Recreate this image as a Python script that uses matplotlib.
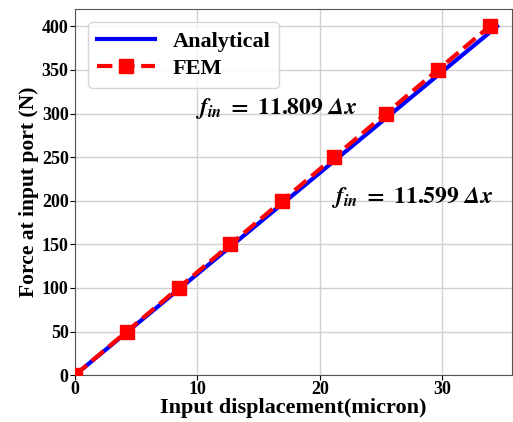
import numpy as np
import matplotlib.pyplot as plt

plt.rcParams['font.family'] = ['Liberation Serif', 'DejaVu Serif']
plt.rcParams['font.weight'] = 'bold'
plt.rcParams['mathtext.fontset'] = 'stix'

# data
force = [0, 50, 100, 150, 200, 250, 300, 350, 400]
k_fem = 11.809
k_analytical = 11.599
disp_fem = [f / k_fem for f in force]
disp_analytical = [f / k_analytical for f in force]

fig = plt.figure(figsize=(5.13, 4.22), dpi=100)
ax = fig.add_axes([0.146, 0.111, 0.852, 0.868])

ax.plot(disp_analytical, force, color='blue', lw=3, label='Analytical', zorder=3)
ax.plot(disp_fem, force, color='red', lw=3, ls='--', marker='s', ms=10,
        label='FEM', zorder=4)

ax.set_xlim(0, 35.7)
ax.set_ylim(0, 420)
ax.set_xticks([0, 10, 20, 30])
ax.set_yticks(range(0, 401, 50))
ax.grid(True, color='#d0d0d0', lw=1)
ax.set_axisbelow(True)
for s in ax.spines.values():
    s.set_color('#555555')

ax.tick_params(labelsize=13, pad=1)
for t in ax.get_xticklabels() + ax.get_yticklabels():
    t.set_fontweight('bold')
ax.set_xlabel('Input displacement(micron)', fontsize=16, fontweight='bold', labelpad=0)
ax.set_ylabel('Force at input port (N)', fontsize=15.5, fontweight='bold', labelpad=2)

ax.text(9.8, 306, r'$\mathbfit{f}_{\mathbfit{in}}\;=\;\mathbf{11.809}\ \mathbfit{\Delta x}$',
        fontsize=17, va='center')
ax.text(20.9, 204, r'$\mathbfit{f}_{\mathbfit{in}}\;=\;\mathbf{11.599}\ \mathbfit{\Delta x}$',
        fontsize=17, va='center')

ax.legend(loc='upper left', prop={'size': 16, 'weight': 'bold'},
          handlelength=2.6, framealpha=0.8, borderaxespad=0.6,
          labelspacing=0.3)

fig.savefig('out.png')
